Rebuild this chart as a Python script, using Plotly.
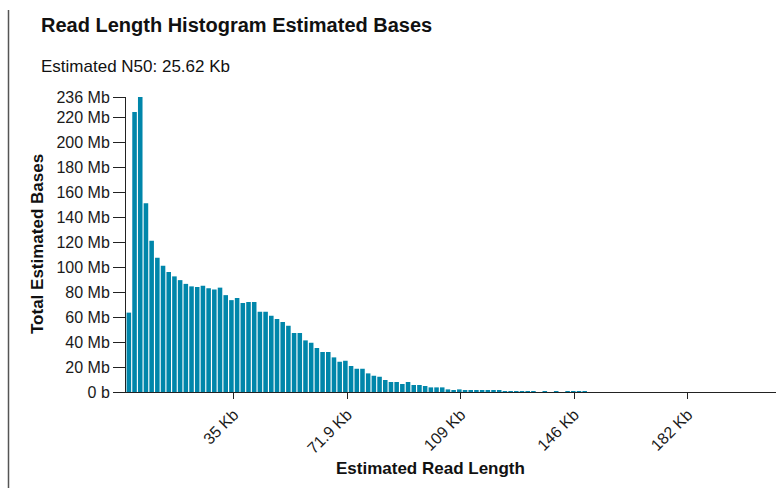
import plotly.graph_objects as go

# ---- data ----
bin_width_kb = 1.85
bases_mb = [
    63.5, 224, 236, 151, 121, 107.5, 101, 96, 92.5, 89.5,
    86.5, 84.5, 84, 85, 83, 82, 83.5, 77.5, 73.5, 75.2,
    71.2, 72, 72, 64.2, 64.2, 61, 58.4, 56, 53, 47.2,
    47.2, 41.3, 39.4, 35.2, 32, 32, 27.7, 24.2, 25, 20.8,
    18.6, 18.6, 14.9, 13, 12.2, 9.6, 8, 8, 6.4, 8,
    5.6, 5.6, 4.8, 3.7, 3.7, 3.7, 2.1, 1.2, 2.1, 1.2,
    1.2, 1.2, 1.5, 1.5, 1.5, 1.5, 0.8, 0.8, 0.8, 0.8,
    0.8, 0.8, 0, 0.8, 0, 0.8, 0, 0.8, 0.8, 0.8, 0.8,
]
bin_centers_kb = [(i + 0.5) * bin_width_kb for i in range(len(bases_mb))]

x_tickvals = [35.0, 71.85, 108.7, 145.55, 182.4]
x_ticktext = ["35 Kb", "71.9 Kb", "109 Kb", "146 Kb", "182 Kb"]
y_tickvals = [0, 20, 40, 60, 80, 100, 120, 140, 160, 180, 200, 220, 236]
y_ticktext = ["0 b"] + [f"{v} Mb" for v in y_tickvals[1:]]

title_text = "Read Length Histogram Estimated Bases"
subtitle_text = "Estimated N50: 25.62 Kb"
x_title = "Estimated Read Length"
y_title = "Total Estimated Bases"

FONT = "Liberation Sans, Arial, sans-serif"
BAR_COLOR = "#0086aa"
TXT = "#1a1a1a"

fig = go.Figure(
    go.Bar(
        x=bin_centers_kb,
        y=bases_mb,
        marker=dict(color=BAR_COLOR, line=dict(width=0)),
        hoverinfo="x+y",
    )
)

W, H = 779, 488
ml, mr, mt, mb = 126, 3, 97, 96
pw, ph = W - ml - mr, H - mt - mb


def px_x(p):
    return (p - ml) / pw


def px_y(p):
    return (H - mb - p) / ph


fig.update_layout(
    width=W,
    height=H,
    margin=dict(l=ml, r=mr, t=mt, b=mb, pad=0),
    paper_bgcolor="white",
    plot_bgcolor="white",
    bargap=0.2,
    showlegend=False,
    font=dict(family=FONT, color=TXT, size=16),
    xaxis=dict(
        range=[0, pw / 3.08],
        tickvals=x_tickvals,
        ticktext=x_ticktext,
        tickangle=-45,
        ticks="outside",
        ticklen=6,
        tickwidth=1,
        tickcolor="#222",
        showline=True,
        linecolor="#222",
        linewidth=1,
        showgrid=False,
        zeroline=False,
        tickfont=dict(size=16, family=FONT, color=TXT),
        fixedrange=True,
    ),
    yaxis=dict(
        range=[0, 236],
        tickvals=y_tickvals,
        ticktext=y_ticktext,
        ticks="outside",
        ticklen=12,
        tickwidth=1,
        tickcolor="#222",
        showline=True,
        linecolor="#222",
        linewidth=1,
        showgrid=False,
        zeroline=False,
        tickfont=dict(size=16, family=FONT, color=TXT),
        fixedrange=True,
    ),
    annotations=[
        dict(text="<b>" + title_text + "</b>", xref="paper", yref="paper",
             x=px_x(39), y=px_y(25), xanchor="left", yanchor="middle",
             showarrow=False, font=dict(size=20, family=FONT, color="#111")),
        dict(text=subtitle_text, xref="paper", yref="paper",
             x=px_x(39), y=px_y(66), xanchor="left", yanchor="middle",
             showarrow=False, font=dict(size=17, family=FONT, color="#111")),
        dict(text="<b>" + x_title + "</b>", xref="paper", yref="paper",
             x=px_x(430), y=px_y(468), xanchor="center", yanchor="middle",
             showarrow=False, font=dict(size=17, family=FONT, color="#111")),
        dict(text="<b>" + y_title + "</b>", xref="paper", yref="paper",
             x=px_x(37), y=px_y(244), xanchor="center", yanchor="middle",
             textangle=-90, showarrow=False,
             font=dict(size=17, family=FONT, color="#111")),
    ],
    shapes=[
        dict(type="line", xref="paper", yref="paper",
             x0=px_x(8.5), x1=px_x(8.5), y0=px_y(10), y1=px_y(490),
             line=dict(color="#555", width=1.5)),
    ],
)

fig.write_html("out.html")
